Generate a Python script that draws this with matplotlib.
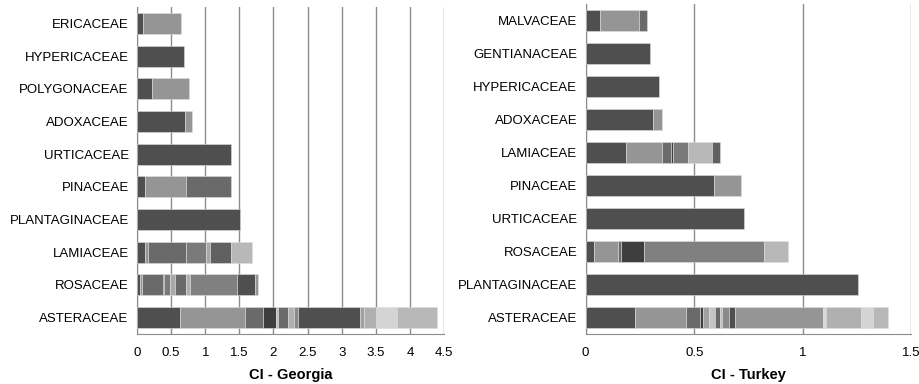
import matplotlib
matplotlib.use("Agg")
import matplotlib.pyplot as plt

plt.rcParams['font.family'] = ['Liberation Sans', 'DejaVu Sans']

# families listed bottom to top, each bar is a stack of species contributions
geo_families = ["ASTERACEAE", "ROSACEAE", "LAMIACEAE", "PLANTAGINACEAE", "PINACEAE",
                "URTICACEAE", "ADOXACEAE", "POLYGONACEAE", "HYPERICACEAE", "ERICACEAE"]
geo_values = [
    [0.625, 0.963, 0.259, 0.191, 0.029, 0.147, 0.083, 0.063, 0.904, 0.059, 0.186, 0.303, 0.591],
    [0.039, 0.034, 0.308, 0.019, 0.088, 0.064, 0.171, 0.059, 0.684, 0.269, 0.039],
    [0.122, 0.034, 0.567, 0.293, 0.059, 0.298, 0.318],
    [1.51],
    [0.112, 0.606, 0.66],
    [1.378],
    [0.708, 0.093],
    [0.224, 0.533],
    [0.689],
    [0.0875, 0.552],
]

tur_families = ["ASTERACEAE", "PLANTAGINACEAE", "ROSACEAE", "URTICACEAE", "PINACEAE",
                "LAMIACEAE", "ADOXACEAE", "HYPERICACEAE", "GENTIANACEAE", "MALVACEAE"]
tur_values = [
    [0.227, 0.235, 0.067, 0.011, 0.028, 0.027, 0.023, 0.011, 0.031, 0.029, 0.4035, 0.0135, 0.1615, 0.0555, 0.069],
    [1.255],
    [0.038, 0.111, 0.012, 0.107, 0.554, 0.111],
    [0.729],
    [0.592, 0.1245],
    [0.187, 0.164, 0.04, 0.011, 0.069, 0.111, 0.039],
    [0.31, 0.04],
    [0.3375],
    [0.296],
    [0.066, 0.179, 0.039],
]

# grey shades for the stacked segments
D, M, G, K = '#4f4f4f', '#959595', '#6a6a6a', '#3e3e3e'
geo_colors = [
    [D, M, G, K, '#c0c0c0', G, '#b0b0b0', '#8a8a8a', D, '#a0a0a0', '#b0b0b0', '#d4d4d4', '#b8b8b8'],
    [D, M, G, K, '#7a7a7a', '#a8a8a8', G, '#b0b0b0', '#808080', D, M],
    [D, M, G, '#7a7a7a', '#a8a8a8', '#606060', '#b8b8b8'],
    [D],
    [D, M, G],
    [D],
    [D, M],
    [D, M],
    [D],
    [D, M],
]
tur_colors = [
    [D, M, G, K, '#a0a0a0', '#c4c4c4', G, '#bcbcbc', '#8a8a8a', D, M, '#d8d8d8', '#b0b0b0', '#d4d4d4', '#b8b8b8'],
    [D],
    [D, M, G, K, '#808080', '#b8b8b8'],
    [D],
    [D, M],
    [D, M, G, K, '#7a7a7a', '#b8b8b8', '#606060'],
    [D, M],
    [D],
    [D],
    [D, M, G],
]


def stacked(ax, families, values, colors, xmax, step, xlabel):
    for i, (vals, cols) in enumerate(zip(values, colors)):
        left = 0
        for v, c in zip(vals, cols):
            ax.barh(i, v, left=left, height=0.64, color=c, edgecolor='#dddddd', linewidth=0.4, zorder=3)
            left += v
    ax.set_ylim(-0.5, len(families) - 0.5)
    ax.set_xlim(0, xmax)
    ticks = [k * step for k in range(int(round(xmax / step)) + 1)]
    ax.set_xticks(ticks)
    ax.set_xticklabels([("%g" % t) for t in ticks], fontsize=9.5)
    ax.set_yticks(range(len(families)))
    ax.set_yticklabels(families, fontsize=9.5)
    ax.tick_params(length=0, pad=6)
    ax.tick_params(axis='x', pad=9)
    ax.grid(axis='x', color='#8c8c8c', linewidth=1, zorder=0)
    for s in ['top', 'right']:
        ax.spines[s].set_visible(False)
    ax.spines['left'].set_color('#8c8c8c')
    ax.spines['bottom'].set_color('#8c8c8c')
    ax.set_xlabel(xlabel, fontsize=10.5, fontweight='bold', labelpad=7)


fig = plt.figure(figsize=(9.2, 3.84), dpi=100)
ax1 = fig.add_axes([0.1489, 0.1302, 0.3337, 0.8516])
ax2 = fig.add_axes([0.6366, 0.1302, 0.3539, 0.8594])

stacked(ax1, geo_families, geo_values, geo_colors, 4.5, 0.5, "CI - Georgia")
stacked(ax2, tur_families, tur_values, tur_colors, 1.5, 0.5, "CI - Turkey")

fig.savefig("out.png", dpi=100)
